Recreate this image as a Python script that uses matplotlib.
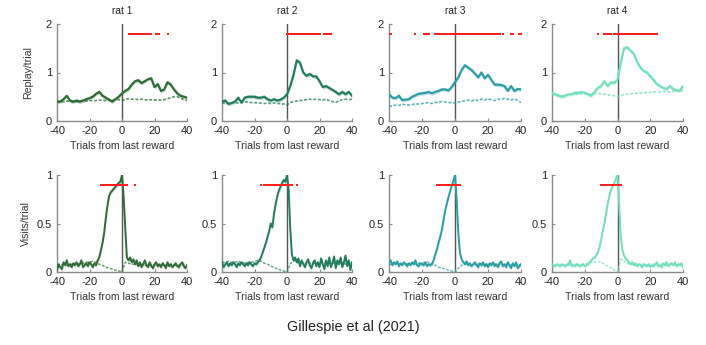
import numpy as np
import matplotlib
matplotlib.use("Agg")
import matplotlib.pyplot as plt

plt.rcParams['font.family'] = ['Liberation Sans', 'DejaVu Sans']

rats = ["rat 1", "rat 2", "rat 3", "rat 4"]
colors = ["#2e6b36", "#237d5c", "#2a9ea3", "#74dfc0"]

x_replay = list(range(-40, 41, 2))
x_visits = list(range(-40, 41))
x_visits_dash = list(range(-40, 41, 2))

replay_solid = [
    [0.40, 0.40, 0.45, 0.52, 0.42, 0.40, 0.42, 0.40, 0.42, 0.45, 0.47, 0.50, 0.56, 0.60, 0.52, 0.48,
     0.44, 0.40, 0.45, 0.50, 0.57, 0.62, 0.66, 0.75, 0.82, 0.84, 0.78, 0.82, 0.86, 0.88, 0.70, 0.76,
     0.62, 0.65, 0.80, 0.75, 0.65, 0.57, 0.52, 0.50, 0.48],
    [0.40, 0.42, 0.35, 0.37, 0.40, 0.48, 0.38, 0.48, 0.50, 0.50, 0.50, 0.48, 0.48, 0.50, 0.45, 0.42,
     0.45, 0.42, 0.44, 0.48, 0.55, 0.72, 0.95, 1.25, 1.20, 1.00, 0.93, 0.97, 0.92, 0.92, 0.82, 0.70,
     0.72, 0.68, 0.64, 0.60, 0.55, 0.60, 0.55, 0.60, 0.52],
    [0.55, 0.48, 0.47, 0.52, 0.43, 0.44, 0.45, 0.50, 0.53, 0.56, 0.57, 0.58, 0.60, 0.57, 0.60, 0.62,
     0.65, 0.65, 0.63, 0.70, 0.80, 0.90, 1.05, 1.15, 1.10, 1.05, 0.98, 0.90, 1.00, 0.88, 0.95, 0.85,
     0.75, 0.75, 0.74, 0.72, 0.62, 0.72, 0.62, 0.66, 0.65],
    [0.58, 0.55, 0.52, 0.50, 0.52, 0.55, 0.55, 0.58, 0.58, 0.60, 0.58, 0.55, 0.52, 0.60, 0.68, 0.72,
     0.82, 0.72, 0.80, 0.78, 0.85, 1.20, 1.50, 1.52, 1.45, 1.38, 1.22, 1.10, 1.03, 1.00, 0.92, 0.85,
     0.76, 0.72, 0.68, 0.66, 0.72, 0.66, 0.63, 0.62, 0.72],
]

replay_dash = [
    [0.40, 0.39, 0.40, 0.41, 0.40, 0.39, 0.40, 0.40, 0.41, 0.41, 0.42, 0.42, 0.42, 0.43, 0.43, 0.42,
     0.43, 0.44, 0.44, 0.44, 0.42, 0.45, 0.46, 0.45, 0.45, 0.44, 0.45, 0.44, 0.43, 0.44, 0.43, 0.44,
     0.43, 0.44, 0.46, 0.48, 0.50, 0.50, 0.47, 0.44, 0.42],
    [0.38, 0.36, 0.37, 0.38, 0.38, 0.37, 0.38, 0.40, 0.39, 0.38, 0.38, 0.37, 0.37, 0.36, 0.37, 0.36,
     0.37, 0.36, 0.36, 0.35, 0.33, 0.38, 0.40, 0.41, 0.42, 0.43, 0.44, 0.45, 0.44, 0.45, 0.44, 0.43,
     0.45, 0.42, 0.40, 0.38, 0.42, 0.44, 0.45, 0.44, 0.45],
    [0.30, 0.31, 0.33, 0.32, 0.35, 0.33, 0.33, 0.34, 0.35, 0.35, 0.36, 0.37, 0.38, 0.36, 0.38, 0.39,
     0.40, 0.39, 0.38, 0.38, 0.37, 0.39, 0.40, 0.42, 0.43, 0.41, 0.44, 0.42, 0.45, 0.43, 0.46, 0.44,
     0.42, 0.45, 0.44, 0.47, 0.45, 0.43, 0.46, 0.42, 0.38],
    [0.55, 0.54, 0.53, 0.52, 0.53, 0.54, 0.55, 0.55, 0.56, 0.56, 0.56, 0.55, 0.55, 0.56, 0.57, 0.56,
     0.55, 0.54, 0.53, 0.52, 0.50, 0.52, 0.55, 0.55, 0.56, 0.57, 0.57, 0.58, 0.58, 0.59, 0.59, 0.60,
     0.60, 0.60, 0.61, 0.60, 0.60, 0.61, 0.62, 0.62, 0.62],
]

visits_solid = [
    [0.02, 0.08, 0.05, 0.03, 0.10, 0.07, 0.12, 0.06, 0.08, 0.05, 0.09, 0.07, 0.10, 0.06, 0.08, 0.12,
     0.05, 0.07, 0.09, 0.06, 0.10, 0.08, 0.05, 0.09, 0.07, 0.12,
     0.15, 0.22, 0.30, 0.40, 0.55, 0.68, 0.78, 0.82, 0.84, 0.86, 0.88, 0.90, 0.92, 0.93,
     1.00,
     0.78, 0.45, 0.15, 0.12, 0.15, 0.10, 0.13, 0.08, 0.12, 0.06,
     0.10, 0.05, 0.08, 0.12, 0.07, 0.05, 0.10, 0.06, 0.04, 0.08, 0.10, 0.06, 0.08, 0.05, 0.09, 0.07,
     0.04, 0.10, 0.06, 0.08, 0.05, 0.07, 0.09, 0.06, 0.05, 0.08, 0.10, 0.06, 0.04, 0.07],
    [0.10, 0.05, 0.08, 0.10, 0.06, 0.09, 0.07, 0.10, 0.08, 0.05, 0.09, 0.07, 0.10, 0.08, 0.06, 0.09,
     0.07, 0.10, 0.08, 0.06, 0.09, 0.08, 0.10, 0.12,
     0.15, 0.20, 0.25, 0.30, 0.36, 0.42, 0.50, 0.46, 0.60, 0.70, 0.78, 0.84, 0.88, 0.92, 0.95, 0.93,
     1.00,
     0.85, 0.45, 0.18, 0.12, 0.15, 0.10, 0.14, 0.06, 0.12, 0.08, 0.05, 0.10, 0.13, 0.07, 0.04, 0.09,
     0.12, 0.06, 0.10, 0.05, 0.14, 0.08, 0.03, 0.12, 0.06, 0.15, 0.05, 0.10, 0.16, 0.04, 0.12, 0.08,
     0.15, 0.05, 0.10, 0.17, 0.06, 0.12, 0.02, 0.10],
    [0.10, 0.12, 0.07, 0.10, 0.08, 0.11, 0.06, 0.09, 0.07, 0.10, 0.08, 0.06, 0.09, 0.07, 0.10, 0.08,
     0.12, 0.07, 0.06, 0.09, 0.08, 0.07, 0.10, 0.06, 0.08, 0.07,
     0.08, 0.12, 0.18, 0.23, 0.30, 0.36, 0.43, 0.53, 0.63, 0.70, 0.77, 0.83, 0.89, 0.94,
     1.00,
     0.75, 0.40, 0.20, 0.13, 0.10, 0.08, 0.11, 0.07, 0.09, 0.06, 0.08, 0.10, 0.07, 0.05, 0.09, 0.07,
     0.10, 0.06, 0.08, 0.05, 0.09, 0.07, 0.10, 0.06, 0.08, 0.05, 0.09, 0.11, 0.06, 0.08, 0.05, 0.10,
     0.07, 0.04, 0.09, 0.06, 0.10, 0.04, 0.06, 0.08],
    [0.08, 0.07, 0.06, 0.08, 0.07, 0.06, 0.08, 0.07, 0.06, 0.08, 0.07, 0.12, 0.06, 0.07, 0.06, 0.08,
     0.07, 0.06, 0.07, 0.08, 0.06, 0.07, 0.08, 0.10,
     0.12, 0.14, 0.15, 0.17, 0.20, 0.26, 0.33, 0.42, 0.50, 0.60, 0.70, 0.78, 0.85, 0.88, 0.92, 0.96,
     1.00,
     0.70, 0.36, 0.22, 0.17, 0.14, 0.12, 0.10, 0.08, 0.10, 0.07, 0.09, 0.06, 0.08, 0.07, 0.05, 0.08,
     0.07, 0.06, 0.08, 0.05, 0.07, 0.06, 0.08, 0.10, 0.06, 0.07, 0.05, 0.09, 0.07, 0.10, 0.06, 0.08,
     0.09, 0.07, 0.10, 0.06, 0.08, 0.07, 0.09, 0.05],
]

visits_dash = [
    [0.07, 0.07, 0.08, 0.07, 0.08, 0.08, 0.09, 0.08, 0.09, 0.10, 0.10, 0.11, 0.10, 0.08, 0.07, 0.05,
     0.04, 0.03, 0.02, 0.01, 0.00, 0.10, 0.09, 0.08, 0.08, 0.07, 0.08, 0.07, 0.07, 0.08, 0.07, 0.07,
     0.08, 0.07, 0.07, 0.08, 0.07, 0.07, 0.07, 0.08, 0.07],
    [0.10, 0.10, 0.11, 0.10, 0.10, 0.11, 0.10, 0.09, 0.10, 0.10, 0.11, 0.12, 0.11, 0.09, 0.08, 0.06,
     0.05, 0.03, 0.02, 0.01, 0.00, 0.08, 0.12, 0.10, 0.09, 0.10, 0.08, 0.09, 0.10, 0.08, 0.09, 0.10,
     0.08, 0.09, 0.10, 0.08, 0.09, 0.10, 0.08, 0.09, 0.10],
    [0.08, 0.08, 0.09, 0.08, 0.08, 0.09, 0.08, 0.09, 0.08, 0.09, 0.09, 0.10, 0.10, 0.08, 0.07, 0.05,
     0.04, 0.03, 0.02, 0.01, 0.00, 0.04, 0.07, 0.08, 0.08, 0.07, 0.08, 0.08, 0.07, 0.08, 0.08, 0.07,
     0.08, 0.08, 0.07, 0.08, 0.08, 0.07, 0.08, 0.08, 0.07],
    [0.07, 0.07, 0.08, 0.07, 0.07, 0.08, 0.07, 0.08, 0.08, 0.08, 0.08, 0.09, 0.10, 0.10, 0.11, 0.10,
     0.08, 0.06, 0.04, 0.02, 0.00, 0.13, 0.11, 0.09, 0.08, 0.08, 0.07, 0.08, 0.08, 0.07, 0.08, 0.08,
     0.07, 0.08, 0.08, 0.07, 0.08, 0.08, 0.07, 0.08, 0.08],
]

# significant trials (red bars)
replay_sig = [
    list(range(4, 19)) + list(range(21, 24)) + [28],
    list(range(0, 21)) + list(range(23, 28)),
    [-40, -39, -24] + list(range(-19, -15)) + list(range(-12, 28)) + [29, 34, 35, 39, 40],
    [-12] + list(range(-8, -3)) + list(range(-2, 25)),
]
visits_sig = [
    list(range(-13, 4)) + [8],
    [-16] + list(range(-14, 4)) + [6],
    list(range(-11, 4)),
    list(range(-10, 3)),
]

fig = plt.figure(figsize=(7.06, 3.45), dpi=100)
W, H = 706, 345
lefts = [57, 222, 389, 552]
widths = [130, 130, 132, 131]
row_top = [(24, 121), (175, 272)]

def style(ax):
    for s in ["top", "right"]:
        ax.spines[s].set_visible(False)
    for s in ["left", "bottom"]:
        ax.spines[s].set_color("#8a8a8a")
        ax.spines[s].set_linewidth(1.0)
    ax.tick_params(direction="in", length=2.5, width=0.8, color="#8a8a8a",
                   labelsize=8, pad=3.5, labelcolor="#222222")
    ax.set_xlim(-40, 40)
    ax.set_xticks([-40, -20, 0, 20, 40])
    ax.set_xticklabels(["-40", "-20", "0", "20", "40"])
    ax.set_xlabel("Trials from last reward", fontsize=7.6, color="#333333", labelpad=4)

for i in range(4):
    c = colors[i]
    # top row
    y0, y1 = row_top[0]
    ax = fig.add_axes([lefts[i] / W, 1 - y1 / H, widths[i] / W, (y1 - y0) / H])
    style(ax)
    ax.set_ylim(0, 2)
    ax.set_yticks([0, 1, 2])
    ax.set_yticklabels(["0", "1", "2"])
    ax.axvline(0, color="#555555", lw=1.0, zorder=1)
    ys = np.array(replay_solid[i])
    yd = np.array(replay_dash[i])
    ax.fill_between(x_replay, ys - 0.04, ys + 0.04, color=c, alpha=0.25, lw=0, zorder=2)
    ax.plot(x_replay, yd, color=c, lw=1.2, ls=(0, (1.8, 1.0)), alpha=0.75, zorder=3)
    ax.plot(x_replay, ys, color=c, lw=1.6, zorder=4)
    ax.plot(replay_sig[i], [1.8] * len(replay_sig[i]), ls="none", marker="s",
            ms=2.0, mew=0, color="#ff2020", zorder=5)
    ax.set_title(rats[i], fontsize=7.3, color="#222222", pad=7)
    if i == 0:
        ax.set_ylabel("Replay/trial", fontsize=7.6, color="#333333", labelpad=9)

    # bottom row
    y0, y1 = row_top[1]
    ax = fig.add_axes([lefts[i] / W, 1 - y1 / H, widths[i] / W, (y1 - y0) / H])
    style(ax)
    ax.set_ylim(0, 1)
    ax.set_yticks([0, 0.5, 1])
    ax.set_yticklabels(["0", "0.5", "1"])
    ax.axvline(0, color="#555555", lw=1.0, zorder=1)
    ys = np.array(visits_solid[i])
    yd = np.array(visits_dash[i])
    ax.fill_between(x_visits, ys - 0.02, ys + 0.02, color=c, alpha=0.25, lw=0, zorder=2)
    ax.plot(x_visits_dash, yd, color=c, lw=1.1, ls=(0, (1.8, 1.0)), alpha=0.7, zorder=3)
    ax.plot(x_visits, ys, color=c, lw=1.4, zorder=4)
    ax.plot(visits_sig[i], [0.9] * len(visits_sig[i]), ls="none", marker="s",
            ms=2.0, mew=0, color="#ff2020", zorder=5)
    if i == 0:
        ax.set_ylabel("Visits/trial", fontsize=7.6, color="#333333", labelpad=4)

fig.text(0.5, 1 - 327 / H, "Gillespie et al (2021)", ha="center", va="center",
         fontsize=10.4, color="#222222")

fig.savefig("out.png", dpi=100)
